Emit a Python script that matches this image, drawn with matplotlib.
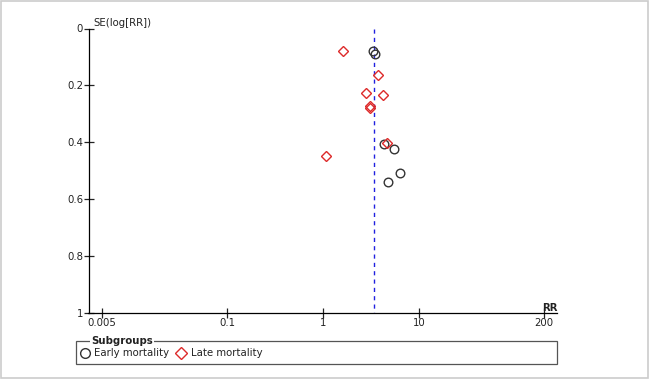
import matplotlib
matplotlib.use("Agg")
import matplotlib.pyplot as plt
from matplotlib.patches import Rectangle

# Data
early_rr = [3.34, 3.50, 4.35, 5.45, 6.39, 4.79]
early_se = [0.079, 0.088, 0.406, 0.424, 0.508, 0.541]
late_rr = [1.63, 3.77, 2.83, 4.25, 3.05, 3.12, 4.68, 1.07]
late_se = [0.080, 0.162, 0.227, 0.234, 0.274, 0.278, 0.403, 0.449]
pooled_rr = 3.42
x_ticks = [0.005, 0.1, 1, 10, 200]
x_tick_labels = ["0.005", "0.1", "1", "10", "200"]
y_ticks = [0, 0.2, 0.4, 0.6, 0.8, 1]
y_tick_labels = ["0", "0.2", "0.4", "0.6", "0.8", "1"]
legend_labels = ["Early mortality", "Late mortality"]

plt.rcParams['font.family'] = ['DejaVu Sans']
FS = 7.3
W, H = 649, 379
fig = plt.figure(figsize=(W / 100, H / 100), dpi=100)
fig.patch.set_facecolor("white")

def fx(px):
    return px / W

def fy(py):
    return 1 - py / H

ax = fig.add_axes([fx(88), fy(313), fx(557) - fx(88), fy(28.5) - fy(313)])
ax.set_xscale("log")
ax.set_xlim(0.00356, 274)
ax.set_ylim(1, 0)
ax.set_facecolor("none")
for s in ["top", "right"]:
    ax.spines[s].set_visible(False)
ax.spines["left"].set_linewidth(0.9)
ax.spines["bottom"].set_linewidth(0.9)
ax.spines["left"].set_position(("outward", -1))

ax.set_xticks(x_ticks)
ax.set_xticklabels(x_tick_labels)
ax.xaxis.set_minor_locator(matplotlib.ticker.NullLocator())
ax.set_yticks(y_ticks)
ax.set_yticklabels(y_tick_labels)
ax.tick_params(axis="both", direction="inout", length=7, width=0.9, labelsize=FS, colors="#222222", pad=1)
ax.tick_params(axis="x", pad=0)

ax.plot([pooled_rr, pooled_rr], [0, 1], color="#2020e0", lw=1.0, linestyle=(0, (3, 3)), zorder=2)

ax.plot(early_rr, early_se, linestyle="none", marker="o", markersize=6.2,
        markerfacecolor="none", markeredgecolor="#333333", markeredgewidth=1.0, zorder=3)
ax.plot(late_rr, late_se, linestyle="none", marker="D", markersize=5.2,
        markerfacecolor="none", markeredgecolor="#dd2a2a", markeredgewidth=1.0, zorder=3)

ax.text(0.012, 1.0, "SE(log[RR])", transform=ax.transAxes, fontsize=FS, color="#222222",
        ha="left", va="bottom")
ax.text(0.985, 0.0, "RR", transform=ax.transAxes, fontsize=FS, color="#222222",
        ha="center", va="bottom", fontweight="bold")

# Legend box
lax = fig.add_axes([0, 0, 1, 1])
lax.set_xlim(0, W)
lax.set_ylim(H, 0)
lax.axis("off")
lax.add_patch(Rectangle((76, 341), 557 - 76, 23, fill=False, edgecolor="#555555", lw=0.9))
lax.text(91, 341, "Subgroups", fontsize=FS, fontweight="bold", color="#222222",
         ha="left", va="center", bbox=dict(facecolor="white", edgecolor="none", pad=1.0))
lax.plot([85], [352.5], marker="o", markersize=7, markerfacecolor="none",
         markeredgecolor="#333333", markeredgewidth=1.0)
lax.text(94, 352.5, legend_labels[0], fontsize=FS, color="#222222", ha="left", va="center")
lax.plot([181], [352.5], marker="D", markersize=6.2, markerfacecolor="none",
         markeredgecolor="#dd2a2a", markeredgewidth=1.0)
lax.text(191, 352.5, legend_labels[1], fontsize=FS, color="#222222", ha="left", va="center")

# Outer frame
lax.add_patch(Rectangle((0.5, 0.5), W - 1.5, H - 2, fill=False, edgecolor="#cccccc", lw=1.2))

fig.savefig("out.png", dpi=100)
